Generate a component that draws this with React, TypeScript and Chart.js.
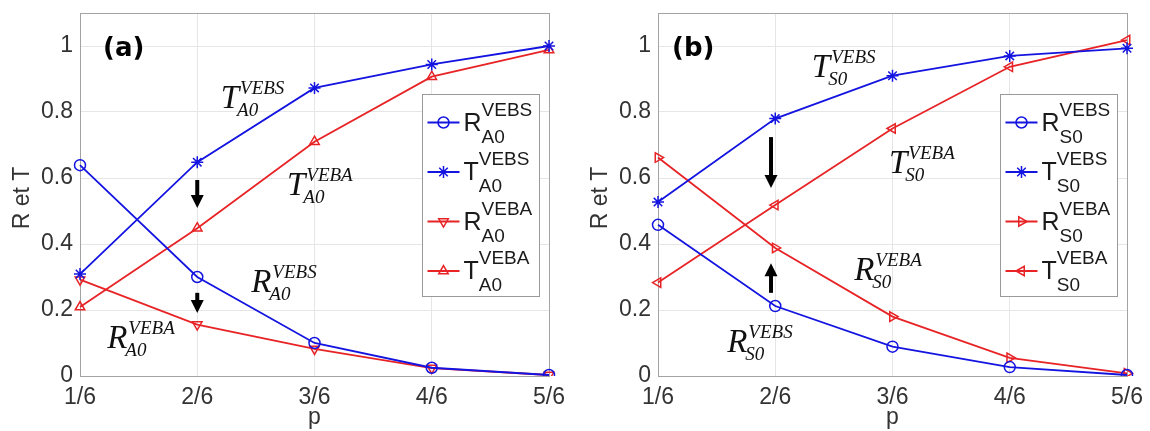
import React, { useEffect, useRef } from 'react';
import { Chart, registerables } from 'chart.js';
import { drawPoint } from 'chart.js/helpers';

Chart.register(...registerables);

// ---------- data ----------
const pLabels = ['1/6', '2/6', '3/6', '4/6', '5/6'];

const rA0Vebs = [0.639, 0.3, 0.1, 0.025, 0.003];
const tA0Vebs = [0.309, 0.648, 0.873, 0.944, 1.0];
const rA0Veba = [0.292, 0.156, 0.082, 0.024, 0.003];
const tA0Veba = [0.209, 0.448, 0.71, 0.907, 0.988];

const rS0Vebs = [0.458, 0.212, 0.089, 0.027, 0.003];
const tS0Vebs = [0.527, 0.78, 0.91, 0.97, 0.993];
const rS0Veba = [0.662, 0.388, 0.18, 0.055, 0.008];
const tS0Veba = [0.283, 0.518, 0.75, 0.937, 1.018];

// annotations (anchor in data units: category index, value)
const notesA = [
  { main: 'T', sup: 'VEBS', sub: 'A0', x: 1.2, y: 0.812 },
  { main: 'T', sup: 'VEBA', sub: 'A0', x: 1.765, y: 0.548 },
  { main: 'R', sup: 'VEBS', sub: 'A0', x: 1.46, y: 0.255 },
  { main: 'R', sup: 'VEBA', sub: 'A0', x: 0.232, y: 0.085 },
];
const notesB = [
  { main: 'T', sup: 'VEBS', sub: 'S0', x: 1.312, y: 0.906 },
  { main: 'T', sup: 'VEBA', sub: 'S0', x: 1.97, y: 0.615 },
  { main: 'R', sup: 'VEBA', sub: 'S0', x: 1.673, y: 0.291 },
  { main: 'R', sup: 'VEBS', sub: 'S0', x: 0.59, y: 0.073 },
];
const arrowsA = [
  { x: 1, from: 0.594, to: 0.509 },
  { x: 1, from: 0.252, to: 0.191 },
];
const arrowsB = [
  { x: 0.964, from: 0.724, to: 0.57 },
  { x: 0.964, from: 0.252, to: 0.342 },
];

const BLUE = 'rgb(20,20,225)';
const RED = 'rgb(232,35,38)';
const SANS = '"Liberation Sans", Arial, sans-serif';
const SERIF = '"Liberation Serif", "Times New Roman", serif';

type Series = { main: string; sup: string; sub: string; values: number[]; color: string; style: string; rot: number };

const panelA = {
  tag: '(a)',
  tagDx: 23,
  yAxisWidth: 80,
  padRight: 26,
  notes: notesA,
  arrows: arrowsA,
  series: [
    { main: 'R', sup: 'VEBS', sub: 'A0', values: rA0Vebs, color: BLUE, style: 'circle', rot: 0 },
    { main: 'T', sup: 'VEBS', sub: 'A0', values: tA0Vebs, color: BLUE, style: 'star', rot: 0 },
    { main: 'R', sup: 'VEBA', sub: 'A0', values: rA0Veba, color: RED, style: 'triangle', rot: 180 },
    { main: 'T', sup: 'VEBA', sub: 'A0', values: tA0Veba, color: RED, style: 'triangle', rot: 0 },
  ] as Series[],
};
const panelB = {
  tag: '(b)',
  tagDx: 14,
  yAxisWidth: 83,
  padRight: 23,
  notes: notesB,
  arrows: arrowsB,
  series: [
    { main: 'R', sup: 'VEBS', sub: 'S0', values: rS0Vebs, color: BLUE, style: 'circle', rot: 0 },
    { main: 'T', sup: 'VEBS', sub: 'S0', values: tS0Vebs, color: BLUE, style: 'star', rot: 0 },
    { main: 'R', sup: 'VEBA', sub: 'S0', values: rS0Veba, color: RED, style: 'triangle', rot: 90 },
    { main: 'T', sup: 'VEBA', sub: 'S0', values: tS0Veba, color: RED, style: 'triangle', rot: -90 },
  ] as Series[],
};

function drawScript(
  ctx: CanvasRenderingContext2D, x: number, y: number, main: string, sup: string, sub: string,
  mainFont: string, smallFont: string, supDx: number, supDy: number, subDx: number, subDy: number,
) {
  ctx.font = mainFont;
  ctx.textAlign = 'left';
  ctx.textBaseline = 'alphabetic';
  ctx.fillText(main, x, y);
  const w = ctx.measureText(main).width;
  ctx.font = smallFont;
  ctx.fillText(sup, x + w + supDx, y + supDy);
  ctx.fillText(sub, x + w + subDx, y + subDy);
}

function drawArrow(ctx: CanvasRenderingContext2D, x: number, y0: number, y1: number) {
  const dir = y1 > y0 ? 1 : -1;
  const headL = 13;
  const headW = 6.5;
  ctx.save();
  ctx.fillStyle = '#000';
  ctx.strokeStyle = '#000';
  ctx.lineWidth = 4;
  ctx.beginPath();
  ctx.moveTo(x, y0);
  ctx.lineTo(x, y1 - dir * (headL - 1));
  ctx.stroke();
  ctx.beginPath();
  ctx.moveTo(x, y1);
  ctx.lineTo(x - headW, y1 - dir * headL);
  ctx.lineTo(x + headW, y1 - dir * headL);
  ctx.closePath();
  ctx.fill();
  ctx.restore();
}

function makeDecor(panel: typeof panelA) {
  return {
    id: 'decor',
    beforeDatasetsDraw(chart: any) {
      const { ctx, chartArea: a } = chart;
      ctx.save();
      ctx.strokeStyle = '#a3a3a3';
      ctx.lineWidth = 1;
      ctx.strokeRect(Math.round(a.left) + 0.5, Math.round(a.top) + 0.5, Math.round(a.right - a.left), Math.round(a.bottom - a.top));
      ctx.restore();
    },
    afterDraw(chart: any) {
      const { ctx, chartArea: a, scales } = chart;
      const xs = scales.x;
      const ys = scales.y;
      ctx.save();
      // annotations
      ctx.fillStyle = '#111';
      for (const n of panel.notes) {
        drawScript(ctx, xs.getPixelForValue(n.x), ys.getPixelForValue(n.y), n.main, n.sup, n.sub,
          `italic 33px ${SERIF}`, `italic 19px ${SERIF}`, 1, -14, -2, 8);
      }
      // arrows
      for (const ar of panel.arrows) {
        drawArrow(ctx, xs.getPixelForValue(ar.x), ys.getPixelForValue(ar.from), ys.getPixelForValue(ar.to));
      }
      // legend
      const bw = 117;
      const bh = 202;
      const bl = Math.round(a.right - 10 - bw) + 0.5;
      const bt = Math.round(a.top + 81) + 0.5;
      ctx.fillStyle = '#fff';
      ctx.fillRect(bl, bt, bw, bh);
      ctx.strokeStyle = '#9a9a9a';
      ctx.lineWidth = 1;
      ctx.strokeRect(bl, bt, bw, bh);
      panel.series.forEach((s, i) => {
        const cy = bt + 28 + i * 49.5;
        ctx.strokeStyle = s.color;
        ctx.lineWidth = 1.8;
        ctx.beginPath();
        ctx.moveTo(bl + 5, cy);
        ctx.lineTo(bl + 37, cy);
        ctx.stroke();
        ctx.lineWidth = 1.5;
        ctx.fillStyle = 'rgba(0,0,0,0)';
        drawPoint(ctx, { pointStyle: s.style as any, radius: s.style === 'star' ? 6 : 5.5, rotation: s.rot, borderWidth: 1.5 }, bl + 21, cy);
        ctx.fillStyle = '#1a1a1a';
        drawScript(ctx, bl + 41, cy + 8, s.main, s.sup, s.sub, `25px ${SANS}`, `19px ${SANS}`, 0, -15, 0, 12);
      });
      // panel tag
      ctx.fillStyle = '#000';
      ctx.font = `bold 26px "DejaVu Sans", sans-serif`;
      ctx.textAlign = 'left';
      ctx.textBaseline = 'alphabetic';
      ctx.fillText(panel.tag, a.left + panel.tagDx, 56);
      // axis titles
      ctx.fillStyle = '#333';
      ctx.font = `23px ${SANS}`;
      ctx.textAlign = 'center';
      ctx.fillText('p', (a.left + a.right) / 2, 424);
      ctx.translate(a.left - 57, 198);
      ctx.rotate(-Math.PI / 2);
      ctx.textBaseline = 'middle';
      ctx.fillText('R et T', 0, 0);
      ctx.restore();
    },
  };
}

function Panel({ panel, left }: { panel: typeof panelA; left: number }) {
  const ref = useRef<HTMLCanvasElement>(null);
  useEffect(() => {
    const tickFont = { family: SANS, size: 23 };
    const chart = new Chart(ref.current!, {
      type: 'line',
      data: {
        labels: pLabels,
        datasets: panel.series.map((s) => ({
          label: `${s.main}_${s.sub}^${s.sup}`,
          data: s.values,
          borderColor: s.color,
          backgroundColor: 'rgba(0,0,0,0)',
          borderWidth: 1.8,
          pointStyle: s.style as any,
          pointRotation: s.rot,
          pointRadius: s.style === 'star' ? 6 : 5.5,
          pointBorderColor: s.color,
          pointBackgroundColor: 'rgba(0,0,0,0)',
          pointBorderWidth: 1.5,
          tension: 0,
        })),
      },
      options: {
        responsive: true,
        maintainAspectRatio: false,
        animation: false,
        layout: { padding: { left: 0, right: panel.padRight, top: 13, bottom: 0 } },
        plugins: { legend: { display: false }, tooltip: { enabled: false } },
        scales: {
          x: {
            type: 'category',
            offset: false,
            grid: { color: '#e6e6e6', drawTicks: false },
            border: { display: false },
            ticks: { padding: 8, color: '#333', font: tickFont, maxRotation: 0, autoSkip: false },
            afterFit: (s: any) => { s.height = 55; s.paddingLeft = 0; s.paddingRight = 0; },
          },
          y: {
            min: 0,
            max: 1.1,
            grid: { color: '#e6e6e6', drawTicks: false },
            border: { display: false },
            ticks: {
              stepSize: 0.2,
              includeBounds: false,
              padding: 7,
              color: '#333',
              font: tickFont,
              callback: (v: any) => String(Math.round(Number(v) * 10) / 10),
            },
            afterFit: (s: any) => { s.width = panel.yAxisWidth; s.paddingTop = 0; s.paddingBottom = 0; },
          },
        },
      } as any,
      plugins: [makeDecor(panel)],
    });
    return () => chart.destroy();
  }, []);
  return (
    <div style={{ position: 'absolute', left, top: 0, width: 575, height: 431 }}>
      <canvas ref={ref} />
    </div>
  );
}

export default function App() {
  return (
    <div style={{ position: 'fixed', left: 0, top: 0, width: 1150, height: 431, background: '#fff' }}>
      <Panel panel={panelA} left={0} />
      <Panel panel={panelB} left={575} />
    </div>
  );
}
